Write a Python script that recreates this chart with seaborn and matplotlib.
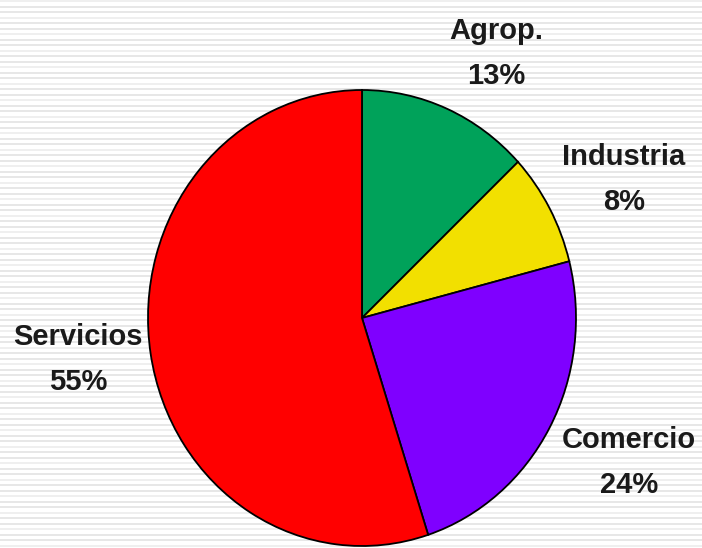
import numpy as np
import matplotlib
matplotlib.use("Agg")
import matplotlib.pyplot as plt
import seaborn as sns

sectors = ["Agrop.", "Industria", "Comercio", "Servicios"]
shares = [13, 8, 24, 55]
sector_colors = ["#00A25A", "#F2E000", "#7F00FF", "#FF0000"]

sns.set_style("white")
plt.rcParams["font.family"] = ["Liberation Sans", "DejaVu Sans"]

W, H = 702, 548
fig = plt.figure(figsize=(W / 100, H / 100), dpi=100)

# striped background
bg = fig.add_axes([0, 0, 1, 1])
bg.set_xlim(0, W)
bg.set_ylim(H, 0)
bg.axis("off")
for i, y in enumerate(np.arange(1, H, 5.5)):
    shade = "#e0e0e0" if i % 3 else "#ebebeb"
    bg.axhline(y, color=shade, lw=1.1)

# pie (slightly taller than wide, like the original)
left, top, right, bottom = 148, 90, 576, 546
ax = fig.add_axes([left / W, (H - bottom) / H, (right - left) / W, (bottom - top) / H])
ax.pie(shares, colors=sector_colors, startangle=90, counterclock=False,
       radius=1, wedgeprops=dict(edgecolor="black", linewidth=1.3))
ax.set_aspect("auto")
ax.set_xlim(-1, 1)
ax.set_ylim(-1, 1)

label_pos = {"Agrop.": (496, 31), "Industria": (624, 157),
             "Comercio": (629, 440), "Servicios": (78, 337)}
for name, val in zip(sectors, shares):
    x, y = label_pos[name]
    bg.text(x, y, name, ha="center", va="center", fontsize=21, fontweight="bold", color="#1a1a1a")
    bg.text(x, y + 45, f"{val}%", ha="center", va="center", fontsize=21, fontweight="bold",
            color="#1a1a1a")

fig.savefig("out.png", dpi=100)
